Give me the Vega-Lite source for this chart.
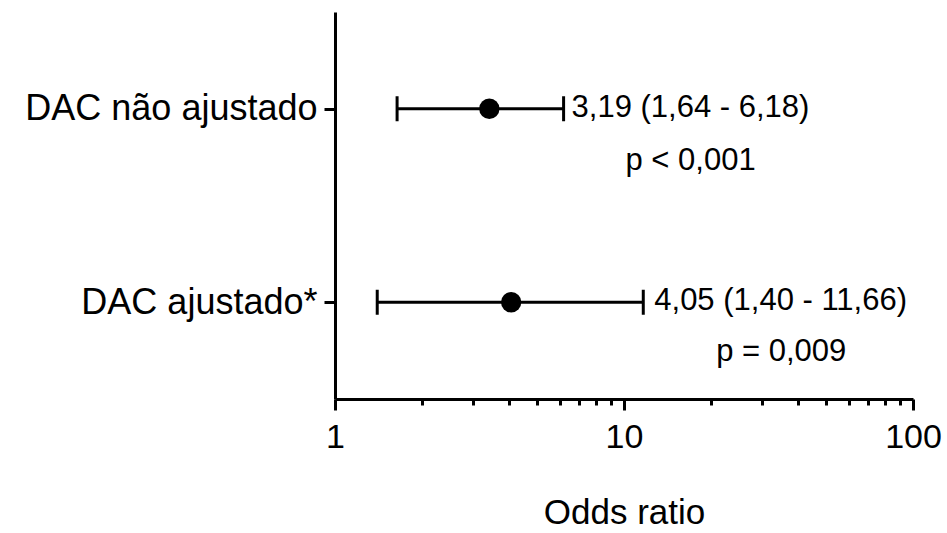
{
  "$schema": "https://vega.github.io/schema/vega-lite/v6.json",
  "width": 578,
  "height": 387,
  "autosize": "none",
  "padding": {"left": 335, "top": 12, "right": 34, "bottom": 134},
  "config": {"view": {"stroke": null}, "font": "Liberation Sans"},
  "data": {
    "values": [
      {"grupo": "DAC não ajustado", "or": 3.42, "lo": 1.64, "hi": 6.18, "ci": "3,19 (1,64 - 6,18)", "p": "p < 0,001"},
      {"grupo": "DAC ajustado*", "or": 4.07, "lo": 1.40, "hi": 11.66, "ci": "4,05 (1,40 - 11,66)", "p": "p = 0,009"}
    ]
  },
  "encoding": {
    "y": {
      "field": "grupo",
      "type": "nominal",
      "sort": null,
      "scale": {"type": "point", "padding": 0.5},
      "axis": {
        "title": null,
        "domainColor": "black",
        "domainWidth": 3,
        "tickColor": "black",
        "tickWidth": 3,
        "tickSize": 11,
        "labelFontSize": 36,
        "labelColor": "black",
        "labelPadding": 7,
        "labelLimit": 500,
        "grid": false
      }
    }
  },
  "layer": [
    {
      "mark": {"type": "rule", "color": "black", "strokeWidth": 3},
      "encoding": {
        "x": {
          "field": "lo",
          "type": "quantitative",
          "scale": {"type": "log", "domain": [1, 100], "nice": false},
          "axis": {
            "title": "Odds ratio",
            "titleFontSize": 35,
            "titleFontWeight": "normal",
            "titleColor": "black",
            "titlePadding": 41,
            "values": [1, 2, 3, 4, 5, 6, 7, 8, 9, 10, 20, 30, 40, 50, 60, 70, 80, 90, 100],
            "labelExpr": "(datum.value == 1 || datum.value == 10 || datum.value == 100) ? format(datum.value, 'd') : ''",
            "labelFontSize": 34,
            "labelColor": "black",
            "labelPadding": 10,
            "labelOverlap": false,
            "labelFlush": false,
            "labelBound": false,
            "domainColor": "black",
            "domainWidth": 3,
            "tickColor": "black",
            "tickWidth": 3,
            "tickSize": {"condition": {"test": "datum.value == 1 || datum.value == 10 || datum.value == 100", "value": 11}, "value": 6},
            "grid": false
          }
        },
        "x2": {"field": "hi"}
      }
    },
    {
      "mark": {"type": "tick", "color": "black", "thickness": 3, "size": 25, "opacity": 1},
      "encoding": {"x": {"field": "lo", "type": "quantitative"}}
    },
    {
      "mark": {"type": "tick", "color": "black", "thickness": 3, "size": 25, "opacity": 1},
      "encoding": {"x": {"field": "hi", "type": "quantitative"}}
    },
    {
      "mark": {"type": "point", "shape": "circle", "filled": true, "color": "black", "size": 415, "opacity": 1},
      "encoding": {"x": {"field": "or", "type": "quantitative"}}
    },
    {
      "transform": [{"filter": "datum.grupo == 'DAC não ajustado'"}],
      "layer": [
        {
          "mark": {"type": "text", "align": "left", "baseline": "middle", "dx": 8, "dy": -1, "fontSize": 31, "color": "black"},
          "encoding": {"x": {"field": "hi", "type": "quantitative"}, "text": {"field": "ci"}}
        },
        {
          "mark": {"type": "text", "align": "center", "baseline": "middle", "dx": 127, "dy": 52, "fontSize": 31, "color": "black"},
          "encoding": {"x": {"field": "hi", "type": "quantitative"}, "text": {"field": "p"}}
        }
      ]
    },
    {
      "transform": [{"filter": "datum.grupo == 'DAC ajustado*'"}],
      "layer": [
        {
          "mark": {"type": "text", "align": "left", "baseline": "middle", "dx": 11, "dy": -1, "fontSize": 31, "color": "black"},
          "encoding": {"x": {"field": "hi", "type": "quantitative"}, "text": {"field": "ci"}}
        },
        {
          "mark": {"type": "text", "align": "center", "baseline": "middle", "dx": 138, "dy": 50, "fontSize": 31, "color": "black"},
          "encoding": {"x": {"field": "hi", "type": "quantitative"}, "text": {"field": "p"}}
        }
      ]
    }
  ]
}
